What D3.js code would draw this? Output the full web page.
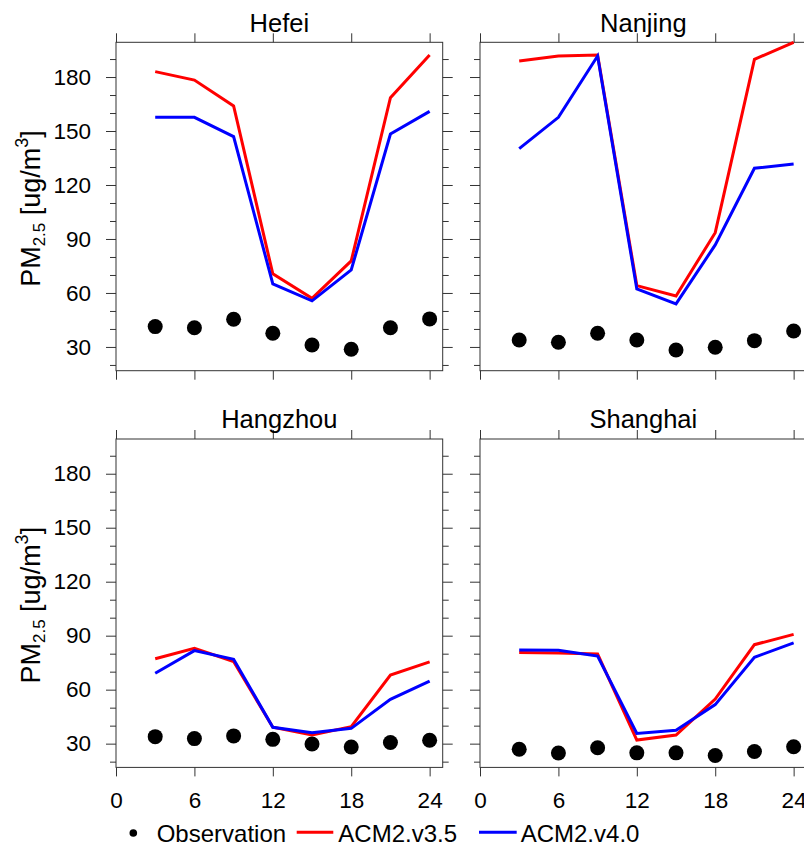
<!DOCTYPE html>
<html>
<head>
<meta charset="utf-8">
<script src="https://cdn.jsdelivr.net/npm/d3@7"></script>
<style>
  body { margin: 0; background: #fff; }
  svg { display: block; font-family: "Liberation Sans", Helvetica, Arial, sans-serif; }
</style>
</head>
<body>
<svg id="chart"></svg>
<script>
var hours = [3, 6, 9, 12, 15, 18, 21, 24];
var cities = ["Hefei", "Nanjing", "Hangzhou", "Shanghai"];

var obsHefei    = [41.3, 40.7, 45.4, 37.6, 31.1, 28.7, 40.7, 45.6];
var v35Hefei    = [183.0, 178.3, 163.9, 70.6, 57.0, 77.8, 168.5, 192.2];
var v40Hefei    = [157.6, 157.6, 146.9, 65.0, 55.6, 72.8, 148.3, 160.9];

var obsNanjing  = [33.9, 32.6, 37.6, 33.9, 28.3, 29.8, 33.5, 38.9];
var v35Nanjing  = [188.9, 191.7, 192.2, 64.1, 58.3, 93.5, 189.8, 199.3];
var v40Nanjing  = [140.2, 157.6, 191.7, 62.2, 53.9, 86.7, 129.3, 131.7];

var obsHangzhou = [33.9, 32.8, 34.3, 32.4, 29.8, 28.1, 30.6, 31.9];
var v35Hangzhou = [77.2, 83.0, 75.6, 39.1, 34.8, 39.4, 68.1, 75.4];
var v40Hangzhou = [69.1, 81.7, 76.9, 39.1, 36.1, 38.5, 54.6, 64.8];

var obsShanghai = [26.9, 24.8, 27.7, 24.9, 24.9, 23.4, 25.6, 28.3];
var v35Shanghai = [80.7, 80.4, 79.8, 32.0, 34.8, 54.8, 85.0, 90.7];
var v40Shanghai = [82.0, 81.9, 78.7, 35.7, 37.4, 51.7, 78.0, 86.0];

var xTicks = [0, 6, 12, 18, 24];
var yTicks = [30, 60, 90, 120, 150, 180];
var yMinorTicks = [20, 40, 50, 70, 80, 100, 110, 130, 140, 160, 170, 190];
var legendLabels = ["Observation", "ACM2.v3.5", "ACM2.v4.0"];

var series = {
    Hefei:    {obs: obsHefei,    v35: v35Hefei,    v40: v40Hefei},
    Nanjing:  {obs: obsNanjing,  v35: v35Nanjing,  v40: v40Nanjing},
    Hangzhou: {obs: obsHangzhou, v35: v35Hangzhou, v40: v40Hangzhou},
    Shanghai: {obs: obsShanghai, v35: v35Shanghai, v40: v40Shanghai}
};

var screen = {width: 804, height: 846};
var panel = {width: 326.7, height: 328.4};
var colX = [116, 480];
var rowY = [42.3, 439];
var axisColor = "#333";

var svg = d3.select("#chart")
    .attr("width", screen.width)
    .attr("height", screen.height);

var xScale = d3.scaleLinear().domain([0, 25]).range([0, panel.width]);
var yScale = d3.scaleLinear().domain([16.8, 199.3]).range([panel.height, 0]);

var styleAxis = function(g, showLabels)
{
    g.select(".domain").remove();
    g.selectAll(".tick line").attr("stroke", axisColor);
    g.selectAll(".tick text")
        .attr("fill", "#000")
        .style("font-size", "22.5px");
    if (!showLabels) g.selectAll(".tick text").remove();
}

var drawPanel = function(city, i)
{
    var col = i % 2, row = Math.floor(i / 2);
    var g = svg.append("g")
        .attr("transform", "translate(" + colX[col] + "," + rowY[row] + ")");
    var d = series[city];

    // axes: major + minor ticks, all pointing outward
    g.append("g")
        .attr("transform", "translate(0," + panel.height + ")")
        .call(d3.axisBottom(xScale).tickValues(xTicks).tickSize(9).tickPadding(16))
        .call(styleAxis, row == 1);
    g.append("g")
        .call(d3.axisTop(xScale).tickValues(xTicks).tickSize(9))
        .call(styleAxis, false);
    g.append("g")
        .call(d3.axisLeft(yScale).tickValues(yTicks).tickSize(10).tickPadding(15))
        .call(styleAxis, col == 0);
    g.append("g")
        .call(d3.axisLeft(yScale).tickValues(yMinorTicks).tickSize(6))
        .call(styleAxis, false);
    g.append("g")
        .attr("transform", "translate(" + panel.width + ",0)")
        .call(d3.axisRight(yScale).tickValues(yTicks).tickSize(10))
        .call(styleAxis, false);
    g.append("g")
        .attr("transform", "translate(" + panel.width + ",0)")
        .call(d3.axisRight(yScale).tickValues(yMinorTicks).tickSize(6))
        .call(styleAxis, false);

    g.append("rect")
        .attr("width", panel.width)
        .attr("height", panel.height)
        .attr("fill", "none")
        .attr("stroke", axisColor)
        .attr("stroke-width", 1);

    var line = d3.line()
        .x(function(v, k) { return xScale(hours[k]); })
        .y(function(v) { return yScale(v); });

    g.append("path")
        .datum(d.v35)
        .attr("d", line)
        .attr("fill", "none")
        .attr("stroke", "#ff0000")
        .attr("stroke-width", 3);
    g.append("path")
        .datum(d.v40)
        .attr("d", line)
        .attr("fill", "none")
        .attr("stroke", "#0000ff")
        .attr("stroke-width", 3);

    g.selectAll("circle.obs")
        .data(d.obs)
        .enter()
        .append("circle")
        .classed("obs", true)
        .attr("cx", function(v, k) { return xScale(hours[k]); })
        .attr("cy", function(v) { return yScale(v); })
        .attr("r", 7.5)
        .attr("fill", "#000");

    g.append("text")
        .text(city)
        .attr("x", panel.width / 2)
        .attr("y", -10.6)
        .attr("text-anchor", "middle")
        .style("font-size", "25.5px");

    if (col == 0)
    {
        var lab = svg.append("text")
            .attr("transform", "translate(40," + (rowY[row] + panel.height / 2 + 2) + ") rotate(-90)")
            .attr("text-anchor", "middle")
            .style("font-size", "27px");
        lab.append("tspan").text("PM");
        lab.append("tspan").text("2.5").attr("dy", 5).style("font-size", "17px");
        lab.append("tspan").text(" [ug/m").attr("dy", -5);
        lab.append("tspan").text("3").attr("dy", -12).style("font-size", "18px");
        lab.append("tspan").text("]").attr("dy", 12);
    }
}

cities.forEach(drawPanel);

// legend
var legend = svg.append("g").attr("transform", "translate(0,833)");
legend.append("circle")
    .attr("cx", 133.3).attr("cy", 0).attr("r", 3.8).attr("fill", "#000");
legend.append("text").text(legendLabels[0])
    .attr("x", 156.7).attr("y", 8.5).style("font-size", "24px");
legend.append("line")
    .attr("x1", 296.7).attr("x2", 333.3).attr("y1", -0.7).attr("y2", -0.7)
    .attr("stroke", "#ff0000").attr("stroke-width", 3);
legend.append("text").text(legendLabels[1])
    .attr("x", 338.3).attr("y", 8.5).style("font-size", "24px");
legend.append("line")
    .attr("x1", 479).attr("x2", 516.7).attr("y1", -0.7).attr("y2", -0.7)
    .attr("stroke", "#0000ff").attr("stroke-width", 3);
legend.append("text").text(legendLabels[2])
    .attr("x", 520.7).attr("y", 8.5).style("font-size", "24px");
</script>
</body>
</html>
